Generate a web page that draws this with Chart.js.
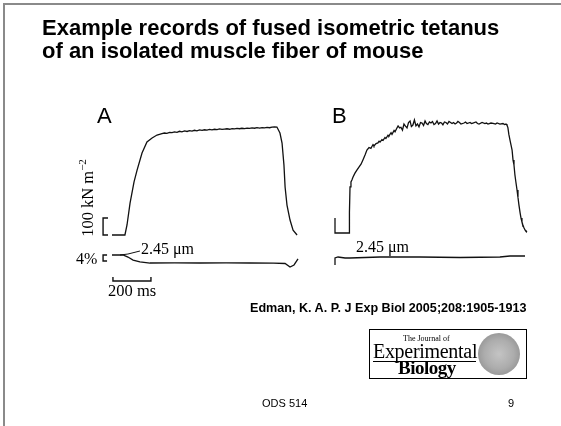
<!DOCTYPE html>
<html>
<head>
<meta charset="utf-8">
<script src="https://cdn.jsdelivr.net/npm/chart.js"></script>
<style>
  body { margin: 0; background: #fff; }
  #slide { position: relative; width: 561px; height: 426px; overflow: hidden; }
  #frame { position: absolute; left: 3px; top: 3px; right: -10px; bottom: -10px;
           border-top: 2px solid #8a8a8a; border-left: 2px solid #8a8a8a; }
  canvas { position: absolute; left: 0; top: 0; }
  .t { position: absolute; white-space: nowrap; color: #000; }
  .sans { font-family: "Liberation Sans", Arial, sans-serif; }
  .serif { font-family: "Liberation Serif", "Times New Roman", serif; }
  #title { left: 42px; top: 16px; font-size: 22px; font-weight: bold; line-height: 23px; }
  #logo { position: absolute; left: 369px; top: 329px; width: 156px; height: 48px; border: 1px solid #000; }
</style>
</head>
<body>
<div id="slide">
  <div id="frame"></div>
  <canvas id="c" width="561" height="426"></canvas>

  <div id="title" class="t sans">Example records of fused isometric tetanus<br>of an isolated muscle fiber of mouse</div>

  <div class="t sans" style="left:97px; top:103px; font-size:22px;">A</div>
  <div class="t sans" style="left:332px; top:103px; font-size:22px;">B</div>

  <div class="t serif" style="left:87px; top:198px; font-size:16.5px; transform:translate(-50%,-50%) rotate(-90deg);">100 kN m<sup style="font-size:11px;">&minus;2</sup></div>
  <div class="t serif" style="left:76px; top:250px; font-size:16px;">4%</div>
  <div class="t serif" style="left:141px; top:240px; font-size:16px;">2.45 &mu;m</div>
  <div class="t serif" style="left:356px; top:238px; font-size:16px;">2.45 &mu;m</div>
  <div class="t serif" style="left:108px; top:281px; font-size:16.5px;">200 ms</div>

  <div class="t sans" style="left:250px; top:301px; font-size:12.6px; font-weight:bold;">Edman, K. A. P. J Exp Biol 2005;208:1905-1913</div>

  <div id="logo">
    <div class="t serif" style="left:33px; top:4px; font-size:8px;">The Journal of</div>
    <div class="t serif" style="left:3px; top:10px; font-size:20px; letter-spacing:-0.3px;">Experimental</div>
    <div style="position:absolute; left:3px; top:31px; width:103px; border-top:1px solid #000;"></div>
    <div class="t serif" style="left:28px; top:27px; font-size:19px; font-weight:bold; letter-spacing:-0.5px;">Biology</div>
    <div style="position:absolute; left:108px; top:3px; width:42px; height:42px; border-radius:50%;
                background: radial-gradient(circle, #c4c4c4 0%, #acacac 50%, #999 72%, #d2d2d2 78%, #9f9f9f 100%);"></div>
  </div>

  <div class="t sans" style="left:262px; top:397px; font-size:11px;">ODS 514</div>
  <div class="t sans" style="left:508px; top:397px; font-size:11px;">9</div>
</div>

<script>
// Panel A, force (time in ms from start of record, stress in kN m-2)
const forceA_t  = [0, 68, 79, 95, 116, 132, 158, 184, 211, 237, 250, 263, 276, 289, 303, 316, 329, 342, 355, 368, 382, 395, 408, 421, 434, 447, 461, 474, 487, 500, 513, 526, 540, 553, 566, 579, 592, 605, 619, 632, 645, 658, 671, 684, 698, 711, 724, 737, 750, 763, 777, 790, 803, 816, 829, 842, 855, 868, 884, 895, 905, 911, 921, 937, 953, 974];
const forceA_kN = [0, 0, 59, 188, 312, 382, 482, 547, 571, 588, 592, 596, 600, 598, 604, 602, 607, 604, 610, 607, 612, 609, 614, 611, 616, 613, 618, 615, 619, 617, 621, 618, 622, 620, 624, 621, 623, 625, 622, 626, 624, 627, 625, 628, 626, 629, 627, 630, 628, 631, 629, 632, 630, 633, 631, 635, 636, 635, 600, 541, 412, 282, 176, 88, 29, 0];

// Panel A, sarcomere length (um)
const lengthA_t  = [0, 58, 84, 111, 147, 200, 330, 463, 600, 726, 850, 911, 937, 958, 979];
const lengthA_um = [2.45, 2.45, 2.417, 2.368, 2.336, 2.319, 2.322, 2.319, 2.322, 2.319, 2.316, 2.311, 2.254, 2.287, 2.385];

// Panel B, force
const forceB_t  = [0, 0, 11, 74, 76, 79, 84, 89, 95, 105, 116, 126, 137, 147, 158, 168, 179, 189, 195, 200, 205, 216, 226, 232, 237, 247, 253, 263, 268, 279, 284, 295, 300, 311, 316, 326,
    332, 340, 347, 355, 363, 371, 379, 387, 395, 402, 410, 418, 426, 434, 442, 450, 458, 466, 474, 481, 489, 497, 505, 513, 521, 529, 537, 545, 553, 561, 568, 576, 584, 592, 600, 616, 624, 632, 640, 647, 655, 663, 679, 687, 695, 711, 718, 726, 742, 750, 758, 774, 789, 797, 805, 821, 837, 845, 853, 868, 884, 892, 900, 905,
    910, 915, 921, 926, 932, 937, 942, 947, 952, 958, 963, 968, 974, 979, 984, 989, 995, 1000, 1005, 1011];
const forceB_kN = [88, 0, 0, 0, 120, 271, 300, 312, 329, 352, 371, 388, 405, 430, 459, 488, 503, 498, 510, 520, 512, 526, 530, 540, 535, 549, 545, 562, 556, 575, 571, 590, 580, 603, 596, 618,
    630, 618, 622, 605, 641, 629, 618, 650, 659, 626, 635, 665, 630, 641, 624, 650, 647, 632, 659, 644, 638, 653, 647, 656, 638, 644, 659, 641, 650, 647, 636, 653, 650, 641, 656, 644, 650, 641, 647, 656, 650, 641, 647, 653, 644, 650, 644, 647, 653, 644, 641, 650, 644, 647, 641, 647, 644, 641, 647, 641, 644, 638, 641, 635,
    620, 580, 547, 520, 488, 429, 400, 341, 300, 253, 210, 165, 120, 88, 65, 47, 30, 18, 10, 6];

// Panel B, sarcomere length
const lengthB_t  = [0, 0, 16, 53, 79, 237, 447, 658, 868, 921, 1000];
const lengthB_um = [2.319, 2.434, 2.45, 2.434, 2.434, 2.45, 2.45, 2.442, 2.45, 2.466, 2.466];

// calibration bars
const stressBar_t  = [-21, -47, -47, -21];
const stressBar_kN = [0, 0, 100, 100];
const strainBar_t  = [-26, -47, -47, -26];
const strainBar_um = [2.45, 2.45, 2.352, 2.352];
const timeBar_t  = [5, 5, 205, 205];
const timeBar_um = [2.09, 2.025, 2.025, 2.09];
const leader_t  = [42, 84, 147];
const leader_um = [2.45, 2.466, 2.515];

const pts = (xs, ys) => xs.map((x, i) => ({ x: x, y: ys[i] }));

function trace(data, xAxis, yAxis, width) {
    return {
        data: data,
        xAxisID: xAxis,
        yAxisID: yAxis,
        borderColor: '#111',
        borderWidth: width || 1.3,
        pointRadius: 0,
        tension: 0,
        fill: false
    };
}

const hidden = (min, max) => ({ type: 'linear', display: false, min: min, max: max });

new Chart(document.getElementById('c'), {
    type: 'line',
    data: {
        datasets: [
            trace(pts(forceA_t, forceA_kN), 'xA', 'yFA'),
            trace(pts(lengthA_t, lengthA_um), 'xA', 'yLA'),
            trace(pts(forceB_t, forceB_kN), 'xB', 'yFB'),
            trace(pts(lengthB_t, lengthB_um), 'xB', 'yLB'),
            trace(pts(stressBar_t, stressBar_kN), 'xA', 'yFA', 1.4),
            trace(pts(strainBar_t, strainBar_um), 'xA', 'yLA', 1.4),
            trace(pts(timeBar_t, timeBar_um), 'xA', 'yLA', 1.4),
            trace(pts(leader_t, leader_um), 'xA', 'yLA', 1)
        ]
    },
    options: {
        responsive: false,
        animation: false,
        layout: { padding: 0 },
        plugins: { legend: { display: false }, tooltip: { enabled: false } },
        scales: {
            xA: hidden(-589.47, 2363.16),
            xB: hidden(-1763.16, 1189.47),
            yFA: hidden(-1123.53, 1382.35),
            yFB: hidden(-1135.29, 1370.59),
            yLA: hidden(-0.344, 6.6167),
            yLB: hidden(-0.3114, 6.6493)
        }
    }
});
</script>
</body>
</html>
